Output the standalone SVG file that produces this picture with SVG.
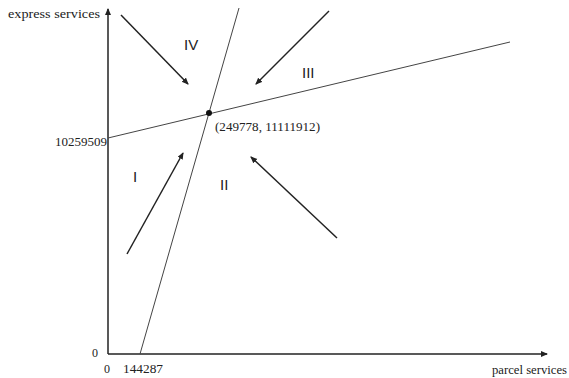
<svg xmlns="http://www.w3.org/2000/svg" width="569" height="378" viewBox="0 0 569 378">
<style>
.serif{font-family:"Liberation Serif","Times New Roman",serif;font-size:12px;fill:#222}
.roman{font-family:"Liberation Sans",Arial,sans-serif;font-size:15px;fill:#222}
.ax{stroke:#222;stroke-width:1.5;fill:none}
.ln{stroke:#444;stroke-width:1;fill:none}
.ar{stroke:#222;stroke-width:1.5;fill:none}
</style>
<defs>
<marker id="ah" markerWidth="8" markerHeight="8" refX="6" refY="3" orient="auto" markerUnits="userSpaceOnUse">
<path d="M0,0 L7,3 L0,6 Z" fill="#222"/>
</marker>
</defs>
<rect width="569" height="378" fill="#fff"/>
<g id="connectors">
<line class="ax" x1="108" y1="354" x2="108" y2="9" marker-end="url(#ah)"/>
<line class="ax" x1="108" y1="354" x2="547" y2="354" marker-end="url(#ah)"/>
<line class="ln" x1="140" y1="354" x2="239" y2="8"/>
<line class="ln" x1="108" y1="138" x2="510" y2="42"/>
<line class="ar" x1="121" y1="15" x2="188" y2="84" marker-end="url(#ah)"/>
<line class="ar" x1="329" y1="11" x2="256" y2="84" marker-end="url(#ah)"/>
<line class="ar" x1="127" y1="254" x2="183" y2="153" marker-end="url(#ah)"/>
<line class="ar" x1="337" y1="238" x2="251" y2="157" marker-end="url(#ah)"/>
</g>
<g id="point"><circle cx="209" cy="113" r="3" fill="#111"/></g>
<g id="labels">
<text class="serif" x="8" y="18" textLength="92" lengthAdjust="spacingAndGlyphs">express services</text>
<text class="serif" x="55" y="146" textLength="52" lengthAdjust="spacingAndGlyphs">10259509</text>
<text class="serif" x="92" y="357">0</text>
<text class="serif" x="104" y="373">0</text>
<text class="serif" x="123" y="373" textLength="40" lengthAdjust="spacingAndGlyphs">144287</text>
<text class="serif" x="492" y="374" textLength="75" lengthAdjust="spacingAndGlyphs">parcel services</text>
<text class="serif" x="215" y="131" textLength="105" lengthAdjust="spacingAndGlyphs">(249778, 11111912)</text>
<text class="roman" x="184" y="50">IV</text>
<text class="roman" x="302" y="78">III</text>
<text class="roman" x="133" y="182">I</text>
<text class="roman" x="220" y="190">II</text>
</g>
</svg>
